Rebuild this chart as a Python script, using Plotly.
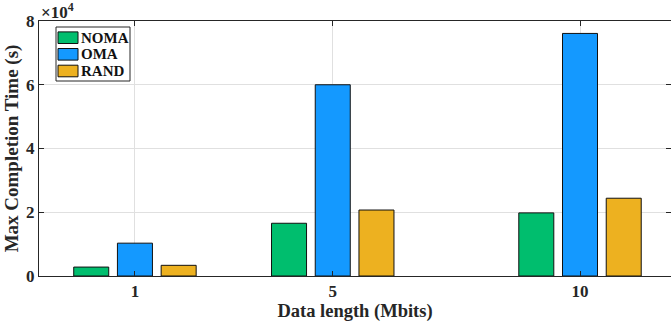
import plotly.graph_objects as go

# Data length (Mbits) and max completion time (s) per scheme
data_length = [1, 5, 10]
noma = [2800, 16550, 19800]
oma = [10300, 60000, 76100]
rand = [3350, 20700, 24400]

y_ticks = [0, 20000, 40000, 60000, 80000]
y_tick_labels = ["0", "2", "4", "6", "8"]

series = [
    ("NOMA", noma, "#00BE6E"),
    ("OMA", oma, "#1499FF"),
    ("RAND", rand, "#EDB120"),
]

W, H = 671, 330
ML, MR, MT, MB = 39, 0, 21, 54
BAR_W = 0.708
STEP = 0.884
FONT = "Liberation Serif"
INK = "#262626"


def px(x):
    """Horizontal pixel -> paper fraction of the plot area."""
    return (x - ML) / (W - ML - MR)


def py(y):
    """Vertical pixel -> paper fraction of the plot area."""
    return (H - MB - y) / (H - MT - MB)


fig = go.Figure()
for i, (name, vals, color) in enumerate(series):
    fig.add_trace(go.Bar(
        x=data_length, y=vals, name=name, showlegend=False,
        width=BAR_W, offset=(i - 1) * STEP - BAR_W / 2,
        marker=dict(color=color, line=dict(color="#111111", width=1)),
    ))

axis_common = dict(
    showline=True, linecolor=INK, linewidth=1, mirror="ticks",
    ticks="inside", ticklen=5, tickcolor=INK, tickwidth=1,
    showgrid=True, gridcolor="#e0e0e0", gridwidth=1, zeroline=False,
    tickfont=dict(family=FONT, size=17, color=INK, weight="bold"),
)

# Legend box drawn inside the axes, top-left
shapes = [dict(
    type="rect", xref="paper", yref="paper",
    x0=px(56), x1=px(130), y0=py(81), y1=py(27),
    fillcolor="white", line=dict(color=INK, width=1), layer="above",
)]
annotations = [dict(
    text="×10<sup>4</sup>", xref="paper", yref="paper",
    x=0, y=1, xanchor="left", yanchor="bottom", yshift=-3,
    showarrow=False, font=dict(family=FONT, size=17, color=INK, weight="bold"),
)]
row_y = [37.7, 54.3, 71.0]
for (name, _, color), ry in zip(series, row_y):
    shapes.append(dict(
        type="rect", xref="paper", yref="paper",
        x0=px(58), x1=px(78), y0=py(ry + 5.8), y1=py(ry - 5.8),
        fillcolor=color, line=dict(color="#111111", width=1), layer="above",
    ))
    annotations.append(dict(
        text=name, xref="paper", yref="paper", x=px(79), y=py(ry),
        xanchor="left", yanchor="middle", showarrow=False,
        font=dict(family=FONT, size=15, color="#111111", weight="bold"),
    ))

fig.update_layout(
    width=W, height=H,
    margin=dict(l=ML, r=MR, t=MT, b=MB),
    barmode="overlay",
    plot_bgcolor="white", paper_bgcolor="white",
    font=dict(family=FONT, color=INK, size=17, weight="bold"),
    xaxis=dict(
        axis_common, range=[-0.94, 11.84], tickvals=data_length,
        title=dict(text="Data length (Mbits)",
                   font=dict(family=FONT, size=18.5, weight="bold"), standoff=2),
    ),
    yaxis=dict(
        axis_common, range=[0, 80000], tickvals=y_ticks, ticktext=y_tick_labels,
        title=dict(text="Max Completion Time (s)",
                   font=dict(family=FONT, size=19, weight="bold"), standoff=2),
    ),
    showlegend=False,
    shapes=shapes,
    annotations=annotations,
)

fig.write_html("out.html")
